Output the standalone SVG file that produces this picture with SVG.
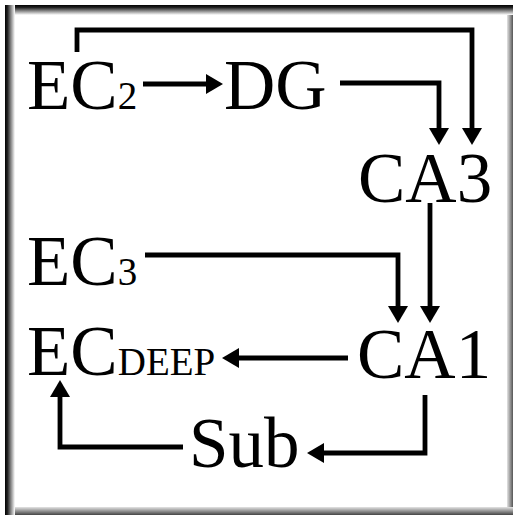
<svg xmlns="http://www.w3.org/2000/svg" width="515" height="517" viewBox="0 0 515 517">
  <defs>
    <linearGradient id="gTop" x1="0" y1="0" x2="0" y2="1">
      <stop offset="0" stop-color="#000"/>
      <stop offset="0.25" stop-color="#222"/>
      <stop offset="1" stop-color="#fff"/>
    </linearGradient>
    <linearGradient id="gLeft" x1="0" y1="0" x2="1" y2="0">
      <stop offset="0" stop-color="#000"/>
      <stop offset="0.25" stop-color="#222"/>
      <stop offset="1" stop-color="#fff"/>
    </linearGradient>
    <linearGradient id="gRight" x1="0" y1="0" x2="1" y2="0">
      <stop offset="0" stop-color="#e4e4e4"/>
      <stop offset="1" stop-color="#555"/>
    </linearGradient>
    <linearGradient id="gBottom" x1="0" y1="0" x2="0" y2="1">
      <stop offset="0" stop-color="#e4e4e4"/>
      <stop offset="1" stop-color="#444"/>
    </linearGradient>
    <marker id="ah" viewBox="0 0 17 20" refX="2" refY="10" markerWidth="17" markerHeight="20" markerUnits="userSpaceOnUse" orient="auto">
      <path d="M0,0 L17,10 L0,20 Z" fill="#000"/>
    </marker>
  </defs>
  <style>
    .lbl { font-family: "Liberation Serif", "Times New Roman", serif; font-size: 71px; fill: #000; }
    .sub { font-size: 39px; }
    .conn { fill: none; stroke: #000; stroke-width: 4.8; marker-end: url(#ah); }
  </style>
  <g id="frame">
    <rect x="0" y="0" width="515" height="517" fill="#fff"/>
    <rect x="507" y="5" width="6" height="510" fill="url(#gRight)"/>
    <rect x="5" y="507" width="508" height="8" fill="url(#gBottom)"/>
    <rect x="5" y="5" width="508" height="10" fill="url(#gTop)"/>
    <rect x="5" y="5" width="10" height="510" fill="url(#gLeft)"/>
  </g>
  <g id="connectors">
    <path class="conn" d="M143,84 H208"/>
    <path class="conn" d="M77,52 V30 H472 V130"/>
    <path class="conn" d="M340,83 H439 V130"/>
    <path class="conn" d="M430,203 V308"/>
    <path class="conn" d="M145,255 H398 V308"/>
    <path class="conn" d="M348,358 H237"/>
    <path class="conn" d="M425,395 V453 H322"/>
    <path class="conn" d="M183,447 H60 V395"/>
  </g>
  <g id="ec2"><text class="lbl" x="27" y="109">EC<tspan class="sub">2</tspan></text></g>
  <g id="dg"><text class="lbl" x="224" y="109">DG</text></g>
  <g id="ca3"><text class="lbl" x="358" y="202">CA3</text></g>
  <g id="ec3"><text class="lbl" x="27" y="285">EC<tspan class="sub">3</tspan></text></g>
  <g id="ecdeep"><text class="lbl" x="27" y="375">EC<tspan class="sub">DEEP</tspan></text></g>
  <g id="ca1"><text class="lbl" x="357" y="378">CA1</text></g>
  <g id="sub"><text class="lbl" x="189" y="467">Sub</text></g>
</svg>
